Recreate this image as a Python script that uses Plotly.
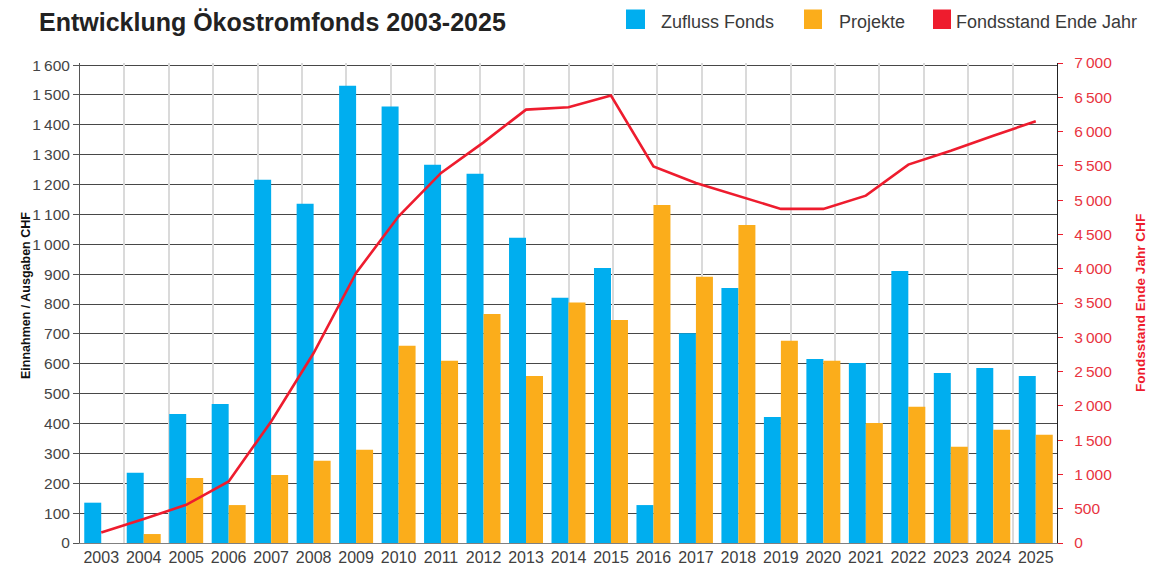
import plotly.graph_objects as go

years = ["2003", "2004", "2005", "2006", "2007", "2008", "2009", "2010", "2011", "2012",
         "2013", "2014", "2015", "2016", "2017", "2018", "2019", "2020", "2021", "2022",
         "2023", "2024", "2025"]
zufluss = [135, 235, 432, 465, 1216, 1136, 1531, 1461, 1266, 1236, 1022, 821, 921, 127,
           702, 854, 422, 616, 603, 911, 569, 586, 559]
projekte = [0, 30, 218, 127, 228, 275, 312, 660, 610, 767, 559, 805, 747, 1132, 891,
            1065, 677, 610, 402, 456, 322, 379, 362]
fondsstand = [153, 349, 557, 897, 1773, 2771, 3938, 4764, 5397, 5843, 6320, 6354, 6525,
              5493, 5251, 5066, 4872, 4872, 5066, 5518, 5720, 5940, 6150]

BLUE = "#00AEEF"
ORANGE = "#FBAD1B"
RED = "#EE1C2E"
FONT = "Liberation Sans, Arial, sans-serif"

W, H = 1149, 567
L, R, T, B = 80, 92, 63, 24
PW, PH = W - L - R, H - T - B


def px_x(px):
    return (px - L) / PW


def px_y(py):
    return (H - B - py) / PH


fig = go.Figure()
fig.add_bar(x=years, y=zufluss, name="Zufluss Fonds", marker_color=BLUE,
            marker_line_width=0, showlegend=False)
fig.add_bar(x=years, y=projekte, name="Projekte", marker_color=ORANGE,
            marker_line_width=0, showlegend=False)
# helper (invisible) trace for the vertical grid axis
fig.add_scatter(x=[0, 22], y=[0, 0], xaxis="x3", yaxis="y", mode="lines",
                line=dict(width=0), opacity=0, hoverinfo="skip", showlegend=False)
fig.add_scatter(x=years, y=fondsstand, name="Fondsstand Ende Jahr", yaxis="y2",
                mode="lines", line=dict(color=RED, width=2.6), showlegend=False)

shapes = []
annotations = []
legend_items = [
    (BLUE, "Zufluss Fonds", 626, 645, 659),
    (ORANGE, "Projekte", 804, 822, 837),
    (RED, "Fondsstand Ende Jahr", 933, 951, 954),
]
for color, label, x0, x1, tx in legend_items:
    shapes.append(dict(type="rect", xref="paper", yref="paper",
                       x0=px_x(x0), x1=px_x(x1), y0=px_y(29), y1=px_y(9.5),
                       fillcolor=color, line=dict(width=0)))
    annotations.append(dict(text=label, xref="paper", yref="paper", x=px_x(tx),
                            y=px_y(22), xanchor="left", yanchor="middle",
                            showarrow=False,
                            font=dict(family=FONT, size=18, color="#3a3a3a")))

annotations.append(dict(text="<b>Einnahmen / Ausgaben CHF</b>", xref="paper", yref="paper",
                        x=px_x(26), y=px_y(296), textangle=-90, showarrow=False,
                        xanchor="center", yanchor="middle",
                        font=dict(family=FONT, size=12.5, color="#111")))
annotations.append(dict(text="<b>Fondsstand Ende Jahr CHF</b>", xref="paper", yref="paper",
                        x=px_x(1140), y=px_y(303), textangle=-90, showarrow=False,
                        xanchor="center", yanchor="middle",
                        font=dict(family=FONT, size=13.6, color=RED)))

fig.update_layout(
    width=W, height=H,
    margin=dict(l=L, r=R, t=T, b=B, autoexpand=False),
    paper_bgcolor="white", plot_bgcolor="white",
    separators=".\u2009",
    barmode="group", bargap=0.2, bargroupgap=0,
    title=dict(text="<b>Entwicklung Ökostromfonds 2003-2025</b>", xref="container",
               yref="container", x=39 / W, y=1 - 22 / H, xanchor="left",
               yanchor="middle", font=dict(family=FONT, size=25, color="#222")),
    xaxis=dict(type="category", showgrid=False, showline=True, linecolor="#808080",
               linewidth=1, ticks="", automargin=False,
               tickfont=dict(family=FONT, size=16, color="#404040"), zeroline=False),
    xaxis3=dict(overlaying="x", range=[0, 22], tick0=0, dtick=1, showgrid=True,
                gridcolor="#dadada", gridwidth=1.5, showticklabels=False, ticks="",
                showline=False, zeroline=False, automargin=False),
    yaxis=dict(range=[0, 1607], tick0=0, dtick=100, showgrid=True, gridcolor="#474747",
               gridwidth=1.2, showline=True, linecolor="#555", linewidth=1, ticks="outside",
               ticklen=6, tickcolor="#555", separatethousands=True, zeroline=False,
               automargin=False, tickfont=dict(family=FONT, size=15.5, color="#454545")),
    yaxis2=dict(overlaying="y", side="right", range=[0, 7000], tick0=0, dtick=500,
                showgrid=False, showline=True, linecolor="#222", linewidth=1.2,
                ticks="outside", ticklen=5, tickcolor=RED, separatethousands=True,
                zeroline=False, automargin=False, ticklabelstandoff=8,
                tickfont=dict(family=FONT, size=15.5, color="#E8343F")),
    shapes=shapes,
    annotations=annotations,
)

fig.write_html("out.html", config={"displayModeBar": False},
               post_script="document.body.style.margin='0';document.body.style.overflow='hidden';")
